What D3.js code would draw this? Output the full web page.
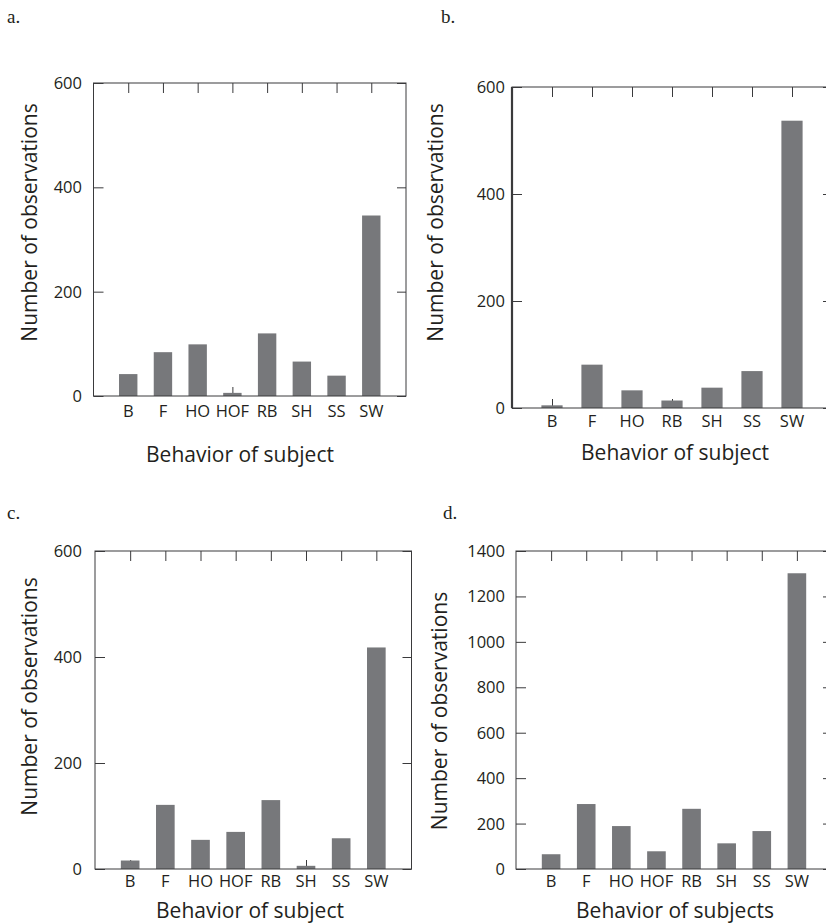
<!DOCTYPE html>
<html>
<head>
<meta charset="utf-8">
<title>Behavior of subject - observation counts</title>
<script src="https://cdn.jsdelivr.net/npm/d3@7"></script>
<style>
    body { margin: 0; background: #ffffff; }
    .tickLabel, .axisTitle { font-family: "Open Sans", sans-serif; fill: #231f20; }
    .panelLetter { font-family: "Liberation Serif", serif; fill: #231f20; }
</style>
</head>
<body>
<script>
// behaviour categories for each panel
var catsA = ["B", "F", "HO", "HOF", "RB", "SH", "SS", "SW"];
var catsB = ["B", "F", "HO", "RB", "SH", "SS", "SW"];
var catsC = ["B", "F", "HO", "HOF", "RB", "SH", "SS", "SW"];
var catsD = ["B", "F", "HO", "HOF", "RB", "SH", "SS", "SW"];

// number of observations
var countsA = [42, 84, 99, 6, 120, 66, 39, 346];
var countsB = [5, 81, 33, 14, 38, 69, 537];
var countsC = [16, 121, 55, 70, 130, 6, 58, 418];
var countsD = [65, 286, 189, 78, 265, 113, 167, 1302];

// y axis tick values
var yTicksA = [0, 200, 400, 600];
var yTicksB = [0, 200, 400, 600];
var yTicksC = [0, 200, 400, 600];
var yTicksD = [0, 200, 400, 600, 800, 1000, 1200, 1400];

// axis titles and panel letters
var letters = ["a.", "b.", "c.", "d."];
var xTitles = ["Behavior of subject", "Behavior of subject", "Behavior of subject", "Behavior of subjects"];
var yTitle = "Number of observations";

window.onload = function(){

    var w = 826, h = 924;

    var svg = d3.select("body")
        .append("svg")
        .attr("width", w)
        .attr("height", h)
        .attr("class", "container");

    //layout of each panel (frame box, label spots)
    var panels = [
        { cats: catsA, counts: countsA, ticks: yTicksA, letter: letters[0], xTitle: xTitles[0],
          left: 93.5, right: 406, top: 83, bottom: 396,
          letterX: 7, letterY: 23, yLabX: 82, yTitleX: 36.5, yTitleY: 222.5,
          xLabY: 416.5, xTitleX: 240, xTitleY: 462, thickLeft: false },
        { cats: catsB, counts: countsB, ticks: yTicksB, letter: letters[1], xTitle: xTitles[1],
          left: 512, right: 832, top: 87, bottom: 408,
          letterX: 441, letterY: 23, yLabX: 505, yTitleX: 443, yTitleY: 222.5,
          xLabY: 427, xTitleX: 675, xTitleY: 460, thickLeft: true },
        { cats: catsC, counts: countsC, ticks: yTicksC, letter: letters[2], xTitle: xTitles[2],
          left: 95, right: 411.5, top: 551, bottom: 869,
          letterX: 7, letterY: 519, yLabX: 82, yTitleX: 37, yTitleY: 696.5,
          xLabY: 887, xTitleX: 250, xTitleY: 918, thickLeft: false },
        { cats: catsD, counts: countsD, ticks: yTicksD, letter: letters[3], xTitle: xTitles[3],
          left: 516, right: 832, top: 551, bottom: 869,
          letterX: 443, letterY: 519, yLabX: 505, yTitleX: 446.5, yTitleY: 711,
          xLabY: 887, xTitleX: 675, xTitleY: 918, thickLeft: false }
    ];

    var frameColor = "#3a3a3c";
    var barColor = "#77787b";

    panels.forEach(function(p){

        var g = svg.append("g").attr("class", "panel");

        //category position scale: centres with one empty step at each end
        var x = d3.scalePoint()
            .domain(p.cats)
            .range([p.left, p.right])
            .padding(1);

        var y = d3.scaleLinear()
            .domain([0, p.ticks[p.ticks.length - 1]])
            .range([p.bottom, p.top]);

        //bottom ticks point inward and are mostly hidden behind bars
        g.append("g")
            .attr("transform", "translate(0," + p.bottom + ")")
            .call(d3.axisBottom(x).tickSize(-9).tickFormat(""))
            .call(function(a){ a.select(".domain").remove(); })
            .selectAll("line").attr("stroke", frameColor);

        //top ticks inward
        g.append("g")
            .attr("transform", "translate(0," + p.top + ")")
            .call(d3.axisTop(x).tickSize(-10).tickFormat(""))
            .call(function(a){ a.select(".domain").remove(); })
            .selectAll("line").attr("stroke", frameColor);

        //left and right y ticks inward
        g.append("g")
            .attr("transform", "translate(" + p.left + ",0)")
            .call(d3.axisLeft(y).tickValues(p.ticks).tickSize(-10).tickFormat(""))
            .call(function(a){ a.select(".domain").remove(); })
            .selectAll("line").attr("stroke", frameColor);

        g.append("g")
            .attr("transform", "translate(" + p.right + ",0)")
            .call(d3.axisRight(y).tickValues(p.ticks).tickSize(-9).tickFormat(""))
            .call(function(a){ a.select(".domain").remove(); })
            .selectAll("line").attr("stroke", frameColor);

        //bars
        var bw = x.step() * 0.53;
        g.selectAll(".bar")
            .data(p.cats)
            .enter()
            .append("rect")
            .attr("class", "bar")
            .attr("x", function(d){ return x(d) - bw / 2; })
            .attr("width", bw)
            .attr("y", function(d, i){ return y(p.counts[i]); })
            .attr("height", function(d, i){ return p.bottom - y(p.counts[i]); })
            .style("fill", barColor);

        //frame
        g.append("rect")
            .attr("x", p.left)
            .attr("y", p.top)
            .attr("width", p.right - p.left)
            .attr("height", p.bottom - p.top)
            .style("fill", "none")
            .style("stroke", frameColor)
            .style("stroke-width", 1);

        if (p.thickLeft){
            g.append("line")
                .attr("x1", p.left).attr("x2", p.left)
                .attr("y1", p.top).attr("y2", p.bottom)
                .style("stroke", frameColor)
                .style("stroke-width", 2.2);
        }

        //y tick labels
        g.selectAll(".yLab")
            .data(p.ticks)
            .enter()
            .append("text")
            .attr("class", "tickLabel")
            .attr("x", p.yLabX)
            .attr("y", function(d){ return y(d); })
            .attr("dy", "0.36em")
            .attr("text-anchor", "end")
            .style("font-size", "16.5px")
            .text(function(d){ return d; });

        //x tick labels
        g.selectAll(".xLab")
            .data(p.cats)
            .enter()
            .append("text")
            .attr("class", "tickLabel")
            .attr("x", function(d){ return x(d); })
            .attr("y", p.xLabY)
            .attr("text-anchor", "middle")
            .style("font-size", "16.5px")
            .text(function(d){ return d; });

        //x axis title
        g.append("text")
            .attr("class", "axisTitle")
            .attr("x", p.xTitleX)
            .attr("y", p.xTitleY)
            .attr("text-anchor", "middle")
            .style("font-size", "21px")
            .text(p.xTitle);

        //y axis title, rotated
        g.append("text")
            .attr("class", "axisTitle")
            .attr("transform", "translate(" + p.yTitleX + "," + p.yTitleY + ") rotate(-90)")
            .attr("text-anchor", "middle")
            .style("font-size", "21px")
            .text(yTitle);

        //panel letter
        g.append("text")
            .attr("class", "panelLetter")
            .attr("x", p.letterX)
            .attr("y", p.letterY)
            .style("font-size", "19px")
            .text(p.letter);
    });
};
</script>
</body>
</html>
